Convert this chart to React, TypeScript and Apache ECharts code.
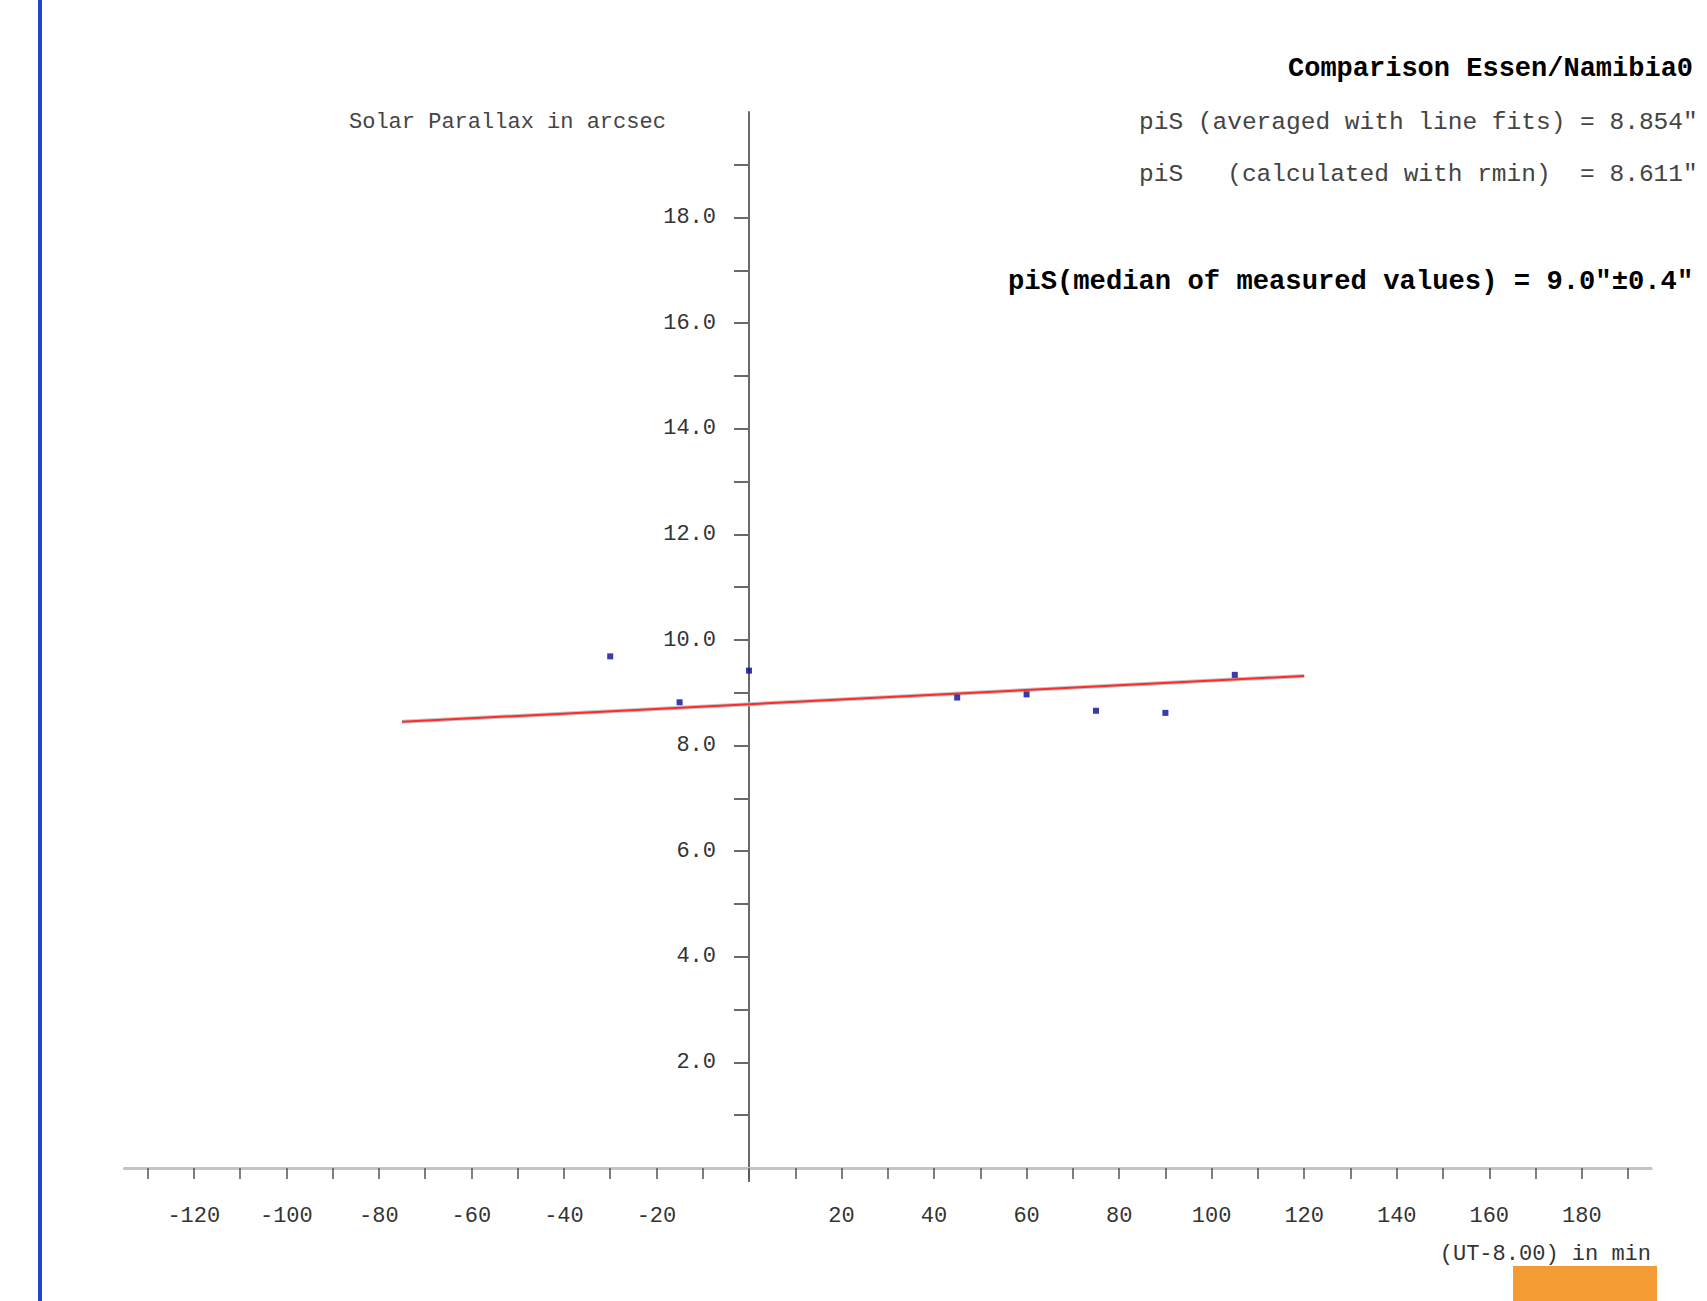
import React, { useEffect, useRef } from "react";
import * as echarts from "echarts";

// Measured solar parallax values (arcsec) vs. time (UT-8:00) in minutes
const obsTime = [-30, -15, 0, 45, 60, 75, 90, 105];
const parallax = [9.69, 8.82, 9.42, 8.91, 8.97, 8.66, 8.62, 9.34];

// Line fit endpoints
const fitTime = [-75, 120];
const fitValue = [8.45, 9.32];

// Axis ticks and labels
const xTickValues = [-130, -120, -110, -100, -90, -80, -70, -60, -50, -40, -30, -20, -10, 0, 10, 20, 30, 40, 50, 60, 70, 80, 90, 100, 110, 120, 130, 140, 150, 160, 170, 180, 190];
const xLabelValues = [-120, -100, -80, -60, -40, -20, 20, 40, 60, 80, 100, 120, 140, 160, 180];
const yTickValues = [1, 2, 3, 4, 5, 6, 7, 8, 9, 10, 11, 12, 13, 14, 15, 16, 17, 18, 19];
const yLabelValues = [2, 4, 6, 8, 10, 12, 14, 16, 18];

const titleText = "Comparison Essen/Namibia0";
const line1Text = 'piS (averaged with line fits) = 8.854"';
const line2Text = 'piS   (calculated with rmin)  = 8.611"';
const line3Text = 'piS(median of measured values) = 9.0"±0.4"';
const yAxisName = "Solar Parallax in arcsec";
const xAxisName = "(UT-8.00) in min";

const MONO = "'Liberation Mono', 'DejaVu Sans Mono', monospace";

const X_MIN = -135;
const X_MAX = 195;
const GRID_LEFT = 124.4;
const GRID_WIDTH = 1526.8;

export default function App() {
  const ref = useRef<HTMLDivElement>(null);

  useEffect(() => {
    if (!ref.current) return;
    const chart = echarts.init(ref.current, null, { renderer: "svg" });
    const fitData = fitTime.map((t, i) => [t, fitValue[i]]);
    const obsData = obsTime.map((t, i) => [t, parallax[i]]);
    // shift the y axis (line, ticks, labels) to x = 0
    const yOffset = -((0 - X_MIN) / (X_MAX - X_MIN)) * GRID_WIDTH;

    chart.setOption({
      animation: false,
      backgroundColor: "#ffffff",
      grid: { left: GRID_LEFT, top: 112, width: GRID_WIDTH, height: 1056, containLabel: false },
      xAxis: {
        type: "value",
        min: X_MIN,
        max: X_MAX,
        axisLine: { show: true, onZero: true, lineStyle: { color: "#c4c4c4", width: 3 } },
        axisTick: {
          show: true,
          customValues: xTickValues,
          length: 11,
          inside: false,
          lineStyle: { color: "#555555", width: 1.5 },
        },
        axisLabel: {
          show: true,
          customValues: xLabelValues,
          margin: 37,
          fontFamily: MONO,
          fontSize: 22,
          color: "#333333",
          formatter: (v: number) => String(v),
        },
        splitLine: { show: false },
      },
      yAxis: {
        type: "value",
        min: 0,
        max: 20,
        position: "left",
        offset: yOffset,
        axisLine: { show: true, onZero: false, lineStyle: { color: "#6a6a6a", width: 2 } },
        axisTick: {
          show: true,
          customValues: yTickValues,
          length: 15,
          lineStyle: { color: "#6a6a6a", width: 2 },
        },
        axisLabel: {
          show: true,
          customValues: yLabelValues,
          margin: 33,
          fontFamily: MONO,
          fontSize: 22,
          color: "#333333",
          formatter: (v: number) => v.toFixed(1),
        },
        splitLine: { show: false },
      },
      series: [
        {
          type: "line",
          data: fitData,
          symbol: "none",
          lineStyle: { color: "#c4c4c4", width: 4 },
          z: 2,
        },
        {
          type: "line",
          data: fitData,
          symbol: "none",
          lineStyle: { color: "#ff2a2a", width: 2 },
          z: 3,
        },
        {
          type: "scatter",
          data: obsData,
          symbol: "rect",
          symbolSize: 6,
          itemStyle: { color: "#0a0a9a" },
          z: 4,
        },
      ],
      graphic: [
        { type: "rect", shape: { x: 38, y: 0, width: 4, height: 1301 }, style: { fill: "#1e44d8" } },
        { type: "rect", shape: { x: 1513, y: 1266, width: 144, height: 35 }, style: { fill: "#f39c33" } },
        { type: "line", shape: { x1: 749, y1: 1168, x2: 749, y2: 1182 }, style: { stroke: "#6a6a6a", lineWidth: 2 } },
        {
          type: "text",
          style: { x: 1288, y: 69, text: titleText, font: `bold 27px ${MONO}`, fill: "#000000", textAlign: "left", textVerticalAlign: "middle" },
        },
        {
          type: "text",
          style: { x: 1139, y: 122, text: line1Text, font: `24.5px ${MONO}`, fill: "#444444", textAlign: "left", textVerticalAlign: "middle" },
        },
        {
          type: "text",
          style: { x: 1139, y: 174, text: line2Text, font: `24.5px ${MONO}`, fill: "#444444", textAlign: "left", textVerticalAlign: "middle" },
        },
        {
          type: "text",
          style: { x: 1008, y: 281, text: line3Text, font: `bold 27.2px ${MONO}`, fill: "#000000", textAlign: "left", textVerticalAlign: "middle" },
        },
        {
          type: "text",
          style: { x: 349, y: 122, text: yAxisName, font: `22px ${MONO}`, fill: "#444444", textAlign: "left", textVerticalAlign: "middle" },
        },
        {
          type: "text",
          style: { x: 1651, y: 1254, text: xAxisName, font: `22px ${MONO}`, fill: "#333333", textAlign: "right", textVerticalAlign: "middle" },
        },
      ],
    });

    return () => chart.dispose();
  }, []);

  return (
    <div
      ref={ref}
      style={{ position: "absolute", left: 0, top: 0, width: 1707, height: 1301 }}
    />
  );
}
